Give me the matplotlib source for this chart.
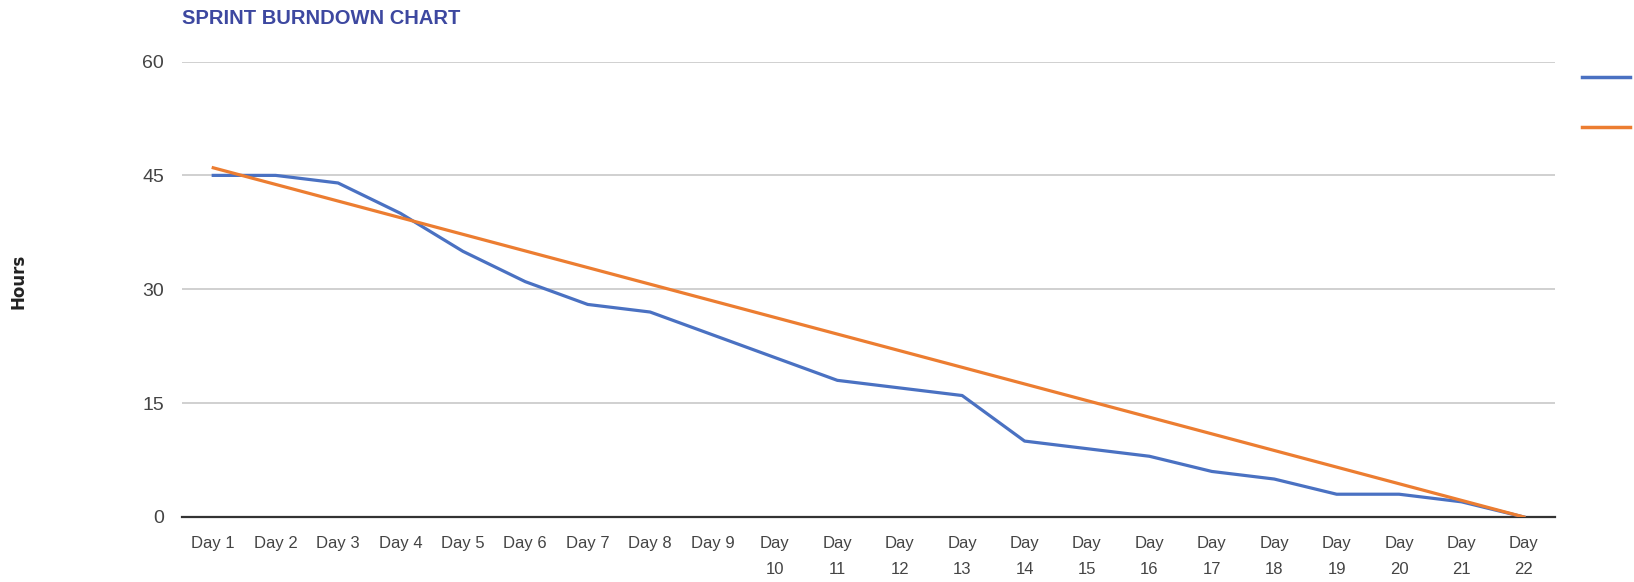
import matplotlib.pyplot as plt
from matplotlib.lines import Line2D

days = ["Day 1", "Day 2", "Day 3", "Day 4", "Day 5", "Day 6", "Day 7", "Day 8",
        "Day 9", "Day\n10", "Day\n11", "Day\n12", "Day\n13", "Day\n14", "Day\n15",
        "Day\n16", "Day\n17", "Day\n18", "Day\n19", "Day\n20", "Day\n21", "Day\n22"]
actual = [45, 45, 44, 40, 35, 31, 28, 27, 24, 21, 18, 17, 16, 10, 9, 8, 6, 5, 3, 3, 2, 0]
ideal_days = [0, 21]
ideal = [46, 0]
y_ticks = [0, 15, 30, 45, 60]

plt.rcParams['font.family'] = ['Liberation Sans Narrow', 'Liberation Sans', 'DejaVu Sans']

blue = '#4a71c2'
orange = '#ec7d31'

fig = plt.figure(figsize=(16.34, 5.82), dpi=100)
ax = fig.add_axes([0.1114, 0.1117, 0.8403, 0.7826])

x = list(range(len(days)))
ax.plot(x, actual, color=blue, lw=2.3, solid_joinstyle='round', zorder=3)
ax.plot(ideal_days, ideal, color=orange, lw=2.3, zorder=4)

ax.set_xlim(-0.5, len(days) - 0.5)
ax.set_ylim(0, 60)
ax.set_yticks(y_ticks)
ax.set_xticks(x)
ax.set_xticklabels(days)
ax.grid(axis='y', color='#c8c8c8', lw=1.2)
ax.set_axisbelow(True)
for s in ['top', 'right', 'left']:
    ax.spines[s].set_visible(False)
ax.spines['bottom'].set_color('#333333')
ax.spines['bottom'].set_linewidth(1.6)
ax.spines['bottom'].set_zorder(2)
ax.tick_params(axis='both', length=0, colors='#444444')
ax.tick_params(axis='y', labelsize=14, pad=13)
ax.tick_params(axis='x', labelsize=12, pad=14)
for lab in ax.get_xticklabels():
    lab.set_linespacing(1.9)

fig.text(0.1114, 0.969, "SPRINT BURNDOWN CHART", color='#3d48a0', fontsize=14.5,
         fontweight='bold', ha='left', va='center')
fig.text(0.0116, 0.517, "Hours", rotation=90, fontsize=12, fontweight='bold',
         color='#222222', ha='center', va='center', family='DejaVu Sans')

handles = [Line2D([], [], color=blue, lw=2.5), Line2D([], [], color=orange, lw=2.5)]
fig.legend(handles, ['', ''], loc='upper left', bbox_to_anchor=(0.9684, 0.879),
           frameon=False, handlelength=2.85, handletextpad=0, labelspacing=2.1,
           fontsize=12, borderpad=0, borderaxespad=0)

fig.savefig('out.png', dpi=100)
